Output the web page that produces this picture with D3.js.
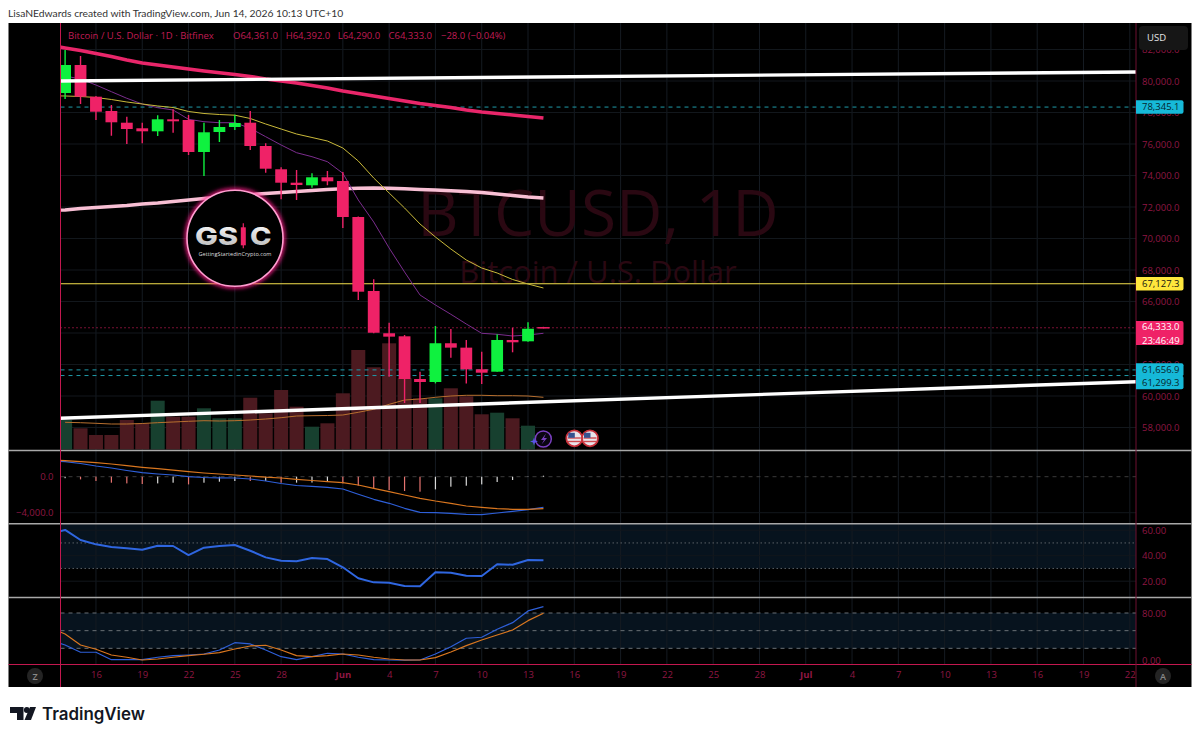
<!DOCTYPE html>
<html><head><meta charset="utf-8">
<script src="https://cdnjs.cloudflare.com/ajax/libs/d3/7.8.5/d3.min.js"></script>
<style>html,body{margin:0;padding:0;background:#fff}svg{display:block;font-family:"Open Sans",sans-serif}</style>
</head><body><svg id="c" width="1200" height="739"></svg>
<script>
// Candles start May 14 (day 0)
const open  = [79238,81016,79003,78095,77352,76997,76806,77568,77524,75492,76762,77079,77352,75873,74394,73543,73378,73886,73650,71365,66667,63984,63790,61079,60889,63349,63070,61695,61543,63556,63473,64361];
const close = [81016,79003,78050,77378,76952,76806,77568,77441,75492,76743,77079,77333,75873,74432,73543,73397,73886,73632,71365,66622,64016,63768,61079,60889,63349,63070,61695,61480,63556,63410,64270,64333];
const high  = [81968,81587,79050,78476,77733,77352,77822,78203,77841,77352,77524,77860,78095,76044,74521,74349,74140,74286,74222,71400,67410,64654,63873,61543,64445,64254,63556,62813,63917,64336,64680,64392];
const low   = [78857,78540,77524,76527,76000,76044,76508,76717,75302,73968,76127,76889,75619,74178,72489,72444,73225,73378,70667,66095,63980,61225,59556,59556,60800,62432,60800,60760,61543,62775,63440,64290];
const volume = [29.3,21,14.3,14.3,29.3,26,48.6,32.6,32.6,41,31,31,51.6,36,59.3,42.6,22.6,26,56,99.3,82,106,71,51,51,61,53,35,36.6,31,23.6,0.5];
const volumeMA = [27,26.6,26,25.3,25.3,25.8,26.6,27.3,28,28.6,28.3,28.6,29.3,30.3,31.6,33.3,33.6,33.8,34.3,37,40,45,49.3,50.3,52,53.3,54,54,53.6,53.6,53.3,52];
// Moving averages start one day earlier (May 13, day -1)
const maPurple = [80571,80317,80127,79746,79321,78902,78540,78305,78159,77568,77416,77352,77352,76997,76464,75937,75448,75194,74876,74140,72445,71048,69397,67873,66413,65778,65188,64572,63981,63918,63810,63873,63981];
const maYellow = [79060,79048,79016,78952,78825,78667,78540,78413,78317,78064,77937,77873,77829,77619,77270,76952,76635,76413,76190,75746,74921,73841,72889,71937,70921,70095,69333,68635,68127,67810,67397,67111,66857];
const maCrimson = [82254,82095,81937,81746,81556,81333,81143,81016,80889,80762,80635,80521,80413,80286,80127,80000,79873,79714,79556,79365,79206,79048,78889,78730,78571,78444,78317,78159,78032,77937,77841,77746,77651];
const maPale = [71778,71810,71905,71968,72032,72095,72191,72254,72349,72445,72540,72635,72730,72794,72857,72921,72984,73048,73111,73162,73194,73207,73194,73156,73111,73079,73029,72984,72921,72826,72730,72635,72572];
const trendUpper = [[-0.33,80000],[69.4,80571]];
const trendLower = [[-0.33,58585],[69.4,60909]];
const levelsTeal = [78345.1,61656.9,61299.3];
const levelYellow = 67127.3, lastPrice = 64333.0;
const macdLine = [1800,1667,1467,1189,967,689,444,300,189,0,-89,-122,-144,-256,-478,-756,-978,-1067,-1178,-1367,-1956,-2511,-2956,-3511,-3956,-4000,-4067,-4178,-4222,-4033,-3844,-3667,-3400];
const macdSignal = [1855,1778,1667,1556,1411,1222,1044,889,722,556,411,300,189,78,-56,-144,-289,-422,-556,-667,-922,-1289,-1667,-2033,-2400,-2700,-2956,-3256,-3400,-3556,-3622,-3622,-3556];
const macdHist = [-167,-300,-478,-667,-744,-811,-744,-667,-856,-667,-556,-478,-478,-470,-670,-660,-650,-556,-744,-1000,-1300,-1478,-1589,-1667,-1411,-1111,-1000,-856,-589,-367,-33,111];
const rsi = [57.0,60.2,52.3,48.9,46.8,45.8,44.7,47.8,47.6,40.5,46.3,47.6,48.4,43.9,38.7,36.1,35.6,38.2,37.4,30.9,22.3,19.1,18.8,16.2,16.0,27.0,26.7,24.3,24.1,33.3,32.9,36.6,36.4];
const stochK = [34.2,25.7,13.3,13.3,0.7,0.7,0.7,4.8,7.5,8.7,10.4,17.2,29.6,27.4,17.2,5.8,0.7,5.8,11.6,10.4,4.8,0.7,0.2,0,0.2,10.4,22.8,37.1,38.8,52.4,63.6,83.5,90.8];
const stochD = [54.6,44.4,25.7,18.4,8.7,4.8,0.2,1.9,4.8,7.5,9.9,12.6,18.9,24,25.2,17.2,7.5,5.8,7.5,10.4,8.7,4.8,1.9,0.2,0.2,4.1,13.8,24.5,34.2,42.7,51.2,67,79.6];
const dayTicks = [2,5,8,11,14,18,21,24,27,30,33,36,39,42,45,48,51,54,57,60,63,66,69];
const dayLabels = ["16","19","22","25","28","Jun","4","7","10","13","16","19","22","25","28","Jul","4","7","10","13","16","19","22"];
const priceTicks = [58000,60000,62000,64000,66000,68000,70000,72000,74000,76000,78000,80000,82000];
const macdTicks = [0,-4000], rsiTicks = [60,40,20], stochTicks = [80,0];

const svg = d3.select("#c");
const L=60.5, R=1136, T=23, B=687, XAX=664.5;
const CR="#ef2267", AXT="#8f1743", GRID="#12171c", NAVY="#07131e";
const x = d3.scaleLinear().domain([0,69]).range([65.1,1129.8]);
const y = d3.scaleLinear().domain([80000,58000]).range([81,427.5]);
const yVol = d3.scaleLinear().domain([0,106]).range([449.3,343.3]);
const yMacd = d3.scaleLinear().domain([0,-4000]).range([476.7,512.7]);
const yRsi = d3.scaleLinear().domain([60,20]).range([530.2,581.2]);
const ySto = d3.scaleLinear().domain([80,0]).range([613,660.1]);

svg.append("rect").attr("x",8.5).attr("y",T).attr("width",1183).attr("height",B-T).attr("fill","#000");
const defs = svg.append("defs");
const clipP=(id,t,b)=>defs.append("clipPath").attr("id",id).append("rect").attr("x",L).attr("y",t).attr("width",R-L).attr("height",b-t);
clipP("cMain",T,450);clipP("cMacd",451,523);clipP("cRsi",524,597);clipP("cSto",598,664);
const glow=defs.append("filter").attr("id","glow").attr("x","-30%").attr("y","-30%").attr("width","160%").attr("height","160%");
glow.append("feGaussianBlur").attr("stdDeviation",2.2);
const silver=defs.append("linearGradient").attr("id","silver").attr("x1",0).attr("y1",0).attr("x2",0).attr("y2",1);
silver.append("stop").attr("offset",0).attr("stop-color","#fff");silver.append("stop").attr("offset",1).attr("stop-color","#b4b4b4");

// bands
svg.append("rect").attr("x",L).attr("width",R-L).attr("y",524).attr("height",yRsi(30)-524).attr("fill",NAVY);
svg.append("rect").attr("x",L).attr("width",R-L).attr("y",ySto(80)).attr("height",ySto(20)-ySto(80)).attr("fill",NAVY);

// grid
const grid=svg.append("g").attr("stroke",GRID).attr("stroke-width",1);
grid.selectAll(".v").data(dayTicks).join("line").attr("x1",d=>x(d)).attr("x2",d=>x(d)).attr("y1",T).attr("y2",XAX).attr("stroke","#151b22");
const hg=(vals,s)=>grid.append("g").selectAll("line").data(vals).join("line").attr("x1",L).attr("x2",R).attr("y1",d=>s(d)).attr("y2",d=>s(d));
hg(priceTicks,y);hg([-4000],yMacd);hg(rsiTicks,yRsi);

// watermark
svg.append("text").attr("x",598).attr("y",236).attr("text-anchor","middle").attr("font-size",64).attr("fill","#2a0812").text("BTCUSD, 1D");
svg.append("text").attr("x",598).attr("y",283).attr("text-anchor","middle").attr("font-size",31).attr("fill","#2a0812").text("Bitcoin / U.S. Dollar");

// main
const main=svg.append("g").attr("clip-path","url(#cMain)");
const isUp=i=>close[i]>=open[i];
main.append("g").selectAll("rect").data(volume).join("rect")
 .attr("x",(d,i)=>x(i)-7).attr("width",14).attr("y",d=>yVol(d)).attr("height",d=>yVol(0)-yVol(d))
 .attr("fill",(d,i)=>isUp(i)?"#17402f":"#4c1a20");
const lineOf=(sc,off=-1)=>d3.line().x((d,i)=>x(i+off)).y(d=>sc(d));
const path=(g,data,gen,col,w)=>g.append("path").datum(data).attr("d",gen).attr("fill","none").attr("stroke",col).attr("stroke-width",w).attr("stroke-linejoin","round");
path(main,volumeMA,lineOf(yVol,0),"#b8702f",1);
const hl=(v,col,w,dash)=>main.append("line").attr("x1",L).attr("x2",R).attr("y1",y(v)).attr("y2",y(v)).attr("stroke",col).attr("stroke-width",w).attr("stroke-dasharray",dash||null);
levelsTeal.forEach(v=>hl(v,"#1f9aa8",1,"4 4"));
hl(lastPrice,CR,1,"1 3");
hl(levelYellow,"#f4e04d",1.2);
path(main,maCrimson,lineOf(y),"#e9266a",3.6);
path(main,maPale,lineOf(y),"#f8bfd4",3.4);
path(main,maPurple,lineOf(y),"#7b2d8e",1);
path(main,maYellow,lineOf(y),"#c9b93a",1);
const cd=main.append("g");
cd.selectAll("line").data(open).join("line").attr("x1",(d,i)=>x(i)).attr("x2",(d,i)=>x(i)).attr("y1",(d,i)=>y(high[i])).attr("y2",(d,i)=>y(low[i]))
 .attr("stroke",(d,i)=>isUp(i)?"#0ff13f":CR).attr("stroke-width",1.4);
cd.selectAll("rect").data(open).join("rect").attr("x",(d,i)=>x(i)-5.9).attr("width",11.8)
 .attr("y",(d,i)=>y(Math.max(open[i],close[i]))).attr("height",(d,i)=>Math.max(1,Math.abs(y(open[i])-y(close[i]))))
 .attr("fill",(d,i)=>isUp(i)?"#0ff13f":CR);
main.append("line").attr("x1",x(31)-6).attr("x2",x(31)+6).attr("y1",y(lastPrice)).attr("y2",y(lastPrice)).attr("stroke",CR).attr("stroke-width",1.2);
const tl=d3.line().x(d=>x(d[0])).y(d=>y(d[1]));
path(main,trendUpper,tl,"#fff",3.4);
path(main,trendLower,tl,"#fff",3.4);

// logo
const lg=svg.append("g").attr("transform","translate(235,238.3)");
lg.append("circle").attr("r",48).attr("fill","none").attr("stroke","#ff1f8a").attr("stroke-width",4).attr("filter","url(#glow)");
lg.append("circle").attr("r",48).attr("fill","#000").attr("stroke","#ff9fd0").attr("stroke-width",1.6);
lg.append("text").attr("x",-40).attr("y",6.7).attr("font-size",25).attr("font-weight",800).attr("font-family","Inter").attr("fill","url(#silver)").attr("textLength",43).attr("lengthAdjust","spacingAndGlyphs").text("GS");
lg.append("text").attr("x",15).attr("y",6.7).attr("font-size",25).attr("font-weight",800).attr("font-family","Inter").attr("fill","url(#silver)").attr("textLength",21.5).attr("lengthAdjust","spacingAndGlyphs").text("C");
lg.append("line").attr("x1",8.3).attr("x2",8.3).attr("y1",-15).attr("y2",10).attr("stroke",CR).attr("stroke-width",1.2);
lg.append("rect").attr("x",5.8).attr("y",-11).attr("width",5).attr("height",18).attr("fill",CR);
lg.append("text").attr("x",0).attr("y",17.5).attr("text-anchor","middle").attr("font-size",5.6).attr("fill","#ddd").text("GettingStartedinCrypto.com");

// MACD
const mg=svg.append("g").attr("clip-path","url(#cMacd)");
mg.append("line").attr("x1",L).attr("x2",R).attr("y1",yMacd(0)).attr("y2",yMacd(0)).attr("stroke","#3a3a3a").attr("stroke-dasharray","4 4");
mg.selectAll("rect").data(macdHist).join("rect").attr("x",(d,i)=>x(i)-.6).attr("width",1.2)
 .attr("y",d=>Math.min(yMacd(d),yMacd(0))).attr("height",d=>Math.abs(yMacd(d)-yMacd(0)))
 .attr("fill",(d,i)=>i===0||d>macdHist[i-1]?"#d8d8d8":"#e5736f");
path(mg,macdLine,lineOf(yMacd),"#2e5fd8",1.2);
path(mg,macdSignal,lineOf(yMacd),"#d9761f",1.2);

// RSI
const rg=svg.append("g").attr("clip-path","url(#cRsi)");
[50,30].forEach(v=>rg.append("line").attr("x1",L).attr("x2",R).attr("y1",yRsi(v)).attr("y2",yRsi(v)).attr("stroke","#5a6066").attr("stroke-dasharray","1.5 2.5"));
path(rg,rsi,lineOf(yRsi),"#2f66e0",2);

// Stoch
const sg=svg.append("g").attr("clip-path","url(#cSto)");
[80,50,20].forEach(v=>sg.append("line").attr("x1",L).attr("x2",R).attr("y1",ySto(v)).attr("y2",ySto(v)).attr("stroke","#6a7076").attr("stroke-dasharray","4 4"));
path(sg,stochK,lineOf(ySto),"#2e5fd8",1.2);
path(sg,stochD,lineOf(ySto),"#d9761f",1.2);

// event icons
const ev=svg.append("g");
ev.append("circle").attr("cx",543.3).attr("cy",439).attr("r",8).attr("fill","#0a0612").attr("stroke","#7a3fc0").attr("stroke-width",1.5);
ev.append("path").attr("d","M546 433.5L541 440H544L541.5 444.5L547 438H544Z").attr("fill","#7a3fc0");
ev.append("path").attr("d","M534 437.5L535 440.5L538 441.5L535 442.5L534 445.5L533 442.5L530 441.5L533 440.5Z").attr("fill","#5a55e8");
[574.3,590].forEach(cx=>{
 const f=ev.append("g").attr("transform",`translate(${cx},438.3)`);
 f.append("circle").attr("r",8).attr("fill","#e8e4ea").attr("stroke","#c8303a").attr("stroke-width",1.8);
 [-1,2.5].forEach(dy=>f.append("rect").attr("x",-6.5).attr("width",13).attr("y",dy).attr("height",1.4).attr("fill","#d04a50"));
 f.append("rect").attr("x",-6).attr("y",-5.5).attr("width",6.5).attr("height",5).attr("fill","#35528f");
});

// frame lines
[450.5,523.7,597.5].forEach(v=>svg.append("line").attr("x1",8.5).attr("x2",1191.5).attr("y1",v).attr("y2",v).attr("stroke","#a8a8a8").attr("stroke-width",1.4));
svg.append("line").attr("x1",8.5).attr("x2",1191.5).attr("y1",XAX).attr("y2",XAX).attr("stroke","#c2184f").attr("stroke-width",1.2);
svg.append("line").attr("x1",L).attr("x2",L).attr("y1",T).attr("y2",B).attr("stroke","#c2184f").attr("stroke-width",1);
svg.append("line").attr("x1",R).attr("x2",R).attr("y1",T).attr("y2",B).attr("stroke","#6e1031").attr("stroke-width",1);

// axes
const styleAxis=g=>{g.select(".domain").remove();g.selectAll(".tick line").remove();g.selectAll("text").attr("fill",AXT).attr("font-size",9.5).attr("font-family",'"Open Sans",sans-serif');};
svg.append("g").attr("transform",`translate(${R},0)`).call(d3.axisRight(y).tickValues(priceTicks).tickFormat(d3.format(",.1f")).tickSize(0).tickPadding(6)).call(styleAxis);
svg.append("g").attr("transform",`translate(${L},0)`).call(d3.axisLeft(yMacd).tickValues(macdTicks).tickFormat(d3.format(",.1f")).tickSize(0).tickPadding(7)).call(styleAxis);
svg.append("g").attr("transform",`translate(${R},0)`).call(d3.axisRight(yRsi).tickValues(rsiTicks).tickFormat(d3.format(".2f")).tickSize(0).tickPadding(6)).call(styleAxis);
svg.append("g").attr("transform",`translate(${R},0)`).call(d3.axisRight(ySto).tickValues(stochTicks).tickFormat(d3.format(".2f")).tickSize(0).tickPadding(6)).call(styleAxis);
svg.append("g").attr("transform",`translate(0,${XAX+4})`).call(d3.axisBottom(x).tickValues(dayTicks).tickFormat((d,i)=>dayLabels[i]).tickSize(0).tickPadding(3)).call(styleAxis)
 .selectAll("text").attr("font-weight",(d,i)=>/[A-Z]/.test(dayLabels[i])?700:400);

// price tags: boxes first, then labels
const tagBox=(v,fill,h,dy=0)=>{
 const t=y(v)-6.7+dy;
 svg.append("path").attr("d",`M${R} ${t}H1181.5a2 2 0 0 1 2 2V${t+h-2}a2 2 0 0 1 -2 2H${R}Z`).attr("fill",fill);
};
const tagText=(v,txt,dy=0)=>svg.append("text").attr("x",1142).attr("y",y(v)+3.4+dy).attr("font-size",9.5).attr("fill",txt).text(d3.format(",.1f")(v));
tagBox(levelsTeal[0],"#16b9d8",13.4);tagText(levelsTeal[0],"#06252c");
tagBox(levelYellow,"#ffe73c",13.4);tagText(levelYellow,"#111");
tagBox(lastPrice,"#ef2267",24);tagText(lastPrice,"#fff",-1);
svg.append("text").attr("x",1142).attr("y",343.5).attr("font-size",9.5).attr("fill","#fff").text("23:46:49");
tagBox(levelsTeal[1],"#16b9d8",13);
tagBox(levelsTeal[2],"#16b9d8",13.4,6.9);
tagText(levelsTeal[1],"#06252c",-0.6);tagText(levelsTeal[2],"#06252c",6.9);

// USD + corner buttons
svg.append("rect").attr("x",1139).attr("y",26).attr("width",49).attr("height",24).attr("rx",4).attr("fill","#161616");
svg.append("text").attr("x",1147).attr("y",40.5).attr("font-size",9.5).attr("fill","#e6e6e6").text("USD");
[[35,"Z"],[1163,"A"]].forEach(([cx,s])=>{
 svg.append("circle").attr("cx",cx).attr("cy",676).attr("r",8).attr("fill","#242424");
 svg.append("text").attr("x",cx).attr("y",679.5).attr("text-anchor","middle").attr("font-size",9).attr("font-weight",600).attr("fill","#8a8a8a").text(s);
});

// legend
const LG="#c01c55";
[[68,"Bitcoin / U.S. Dollar · 1D · Bitfinex"],[233,"O64,361.0"],[285.7,"H64,392.0"],[337.7,"L64,290.0"],[388.5,"C64,333.0"],[441,"−28.0 (−0.04%)"]]
 .forEach(([px,s])=>svg.append("text").attr("x",px).attr("y",38.5).attr("font-size",9.5).attr("fill",LG).text(s));

// header and footer
svg.append("text").attr("x",8).attr("y",17).attr("font-family","Lato").attr("font-size",10.3).attr("fill","#333").text("LisaNEdwards created with TradingView.com, Jun 14, 2026 10:13 UTC+10");
const tv=svg.append("g").attr("fill","#131722");
tv.append("path").attr("d","M10 707H23.5V720H17V713H10Z");
tv.append("circle").attr("cx",26.8).attr("cy",710).attr("r",2.9);
tv.append("path").attr("d","M24.5 720L30 707H36L31 720Z");
svg.append("text").attr("x",42).attr("y",720).attr("font-family","Inter").attr("font-weight",600).attr("font-size",16.9).attr("fill","#131722").text("TradingView");
</script></body></html>
